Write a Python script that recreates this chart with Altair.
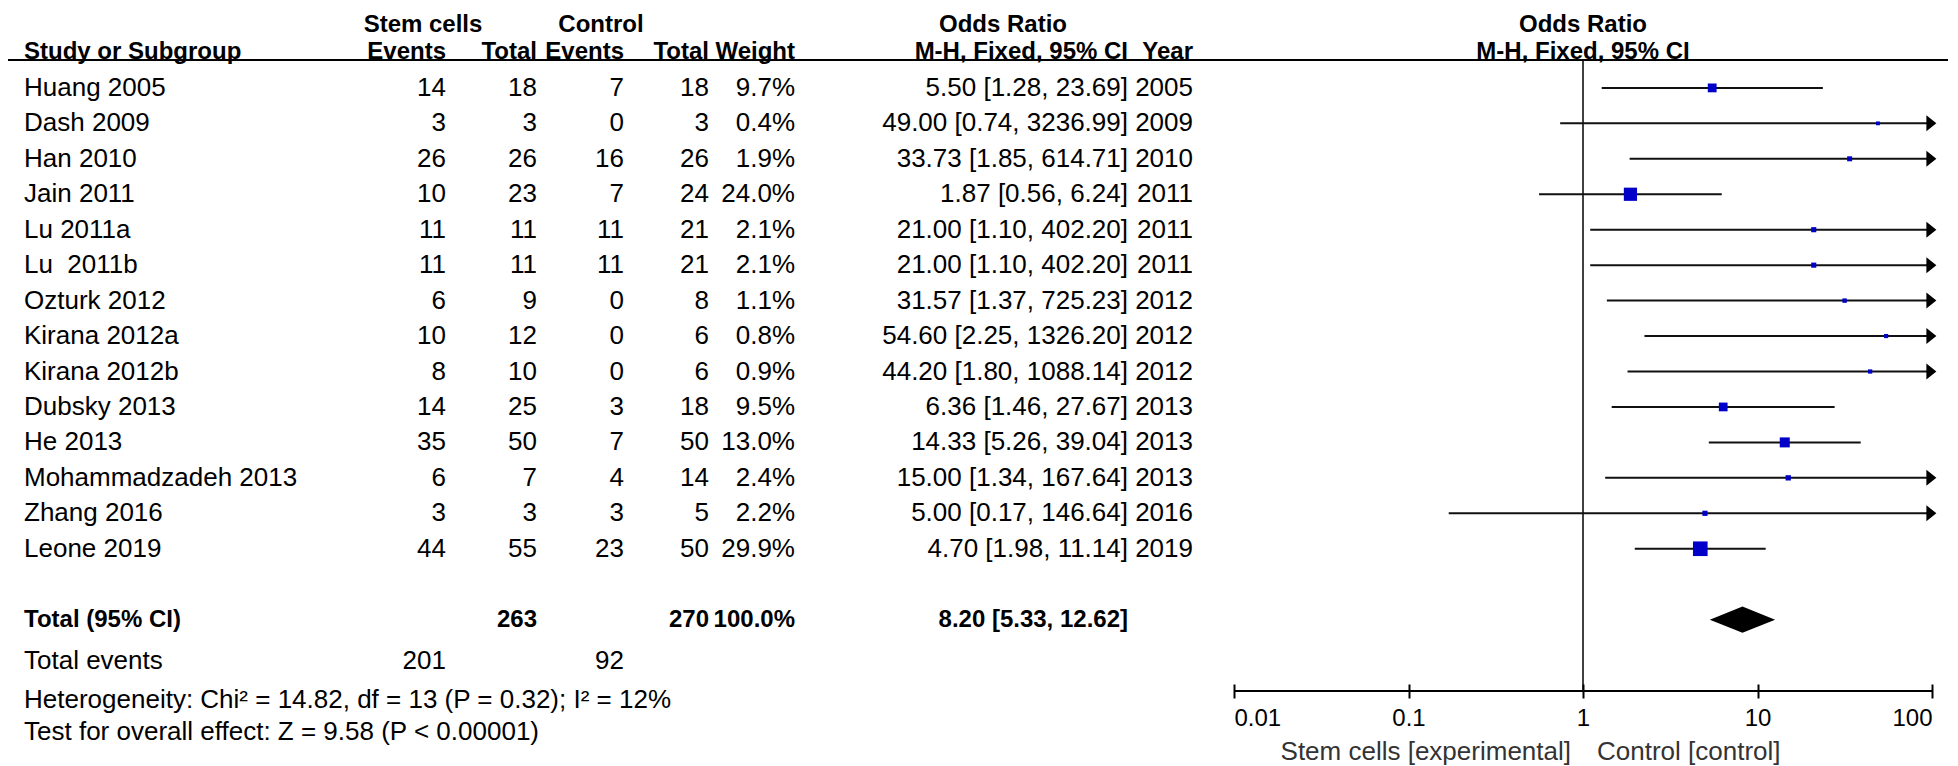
import altair as alt
import pandas as pd

# ---------------- data ----------------
studies = ["Huang 2005", "Dash 2009", "Han 2010", "Jain 2011", "Lu 2011a", "Lu\u00a0 2011b",
           "Ozturk 2012", "Kirana 2012a", "Kirana 2012b", "Dubsky 2013", "He 2013",
           "Mohammadzadeh 2013", "Zhang 2016", "Leone 2019"]
stem_events = [14, 3, 26, 10, 11, 11, 6, 10, 8, 14, 35, 6, 3, 44]
stem_total = [18, 3, 26, 23, 11, 11, 9, 12, 10, 25, 50, 7, 3, 55]
ctrl_events = [7, 0, 16, 7, 11, 11, 0, 0, 0, 3, 7, 4, 3, 23]
ctrl_total = [18, 3, 26, 24, 21, 21, 8, 6, 6, 18, 50, 14, 5, 50]
weights = [9.7, 0.4, 1.9, 24.0, 2.1, 2.1, 1.1, 0.8, 0.9, 9.5, 13.0, 2.4, 2.2, 29.9]
or_est = [5.50, 49.00, 33.73, 1.87, 21.00, 21.00, 31.57, 54.60, 44.20, 6.36, 14.33, 15.00, 5.00, 4.70]
or_low = [1.28, 0.74, 1.85, 0.56, 1.10, 1.10, 1.37, 2.25, 1.80, 1.46, 5.26, 1.34, 0.17, 1.98]
or_high = [23.69, 3236.99, 614.71, 6.24, 402.20, 402.20, 725.23, 1326.20, 1088.14, 27.67,
           39.04, 167.64, 146.64, 11.14]
years = [2005, 2009, 2010, 2011, 2011, 2011, 2012, 2012, 2012, 2013, 2013, 2013, 2016, 2019]

total_stem, total_ctrl = 263, 270
events_stem, events_ctrl = 201, 92
total_weight = 100.0
pooled = [5.33, 8.20, 12.62]  # low, estimate, high
het_text = "Heterogeneity: Chi\u00b2 = 14.82, df = 13 (P = 0.32); I\u00b2 = 12%"
test_text = "Test for overall effect: Z = 9.58 (P < 0.00001)"
tick_values = [0.01, 0.1, 1, 10, 100]

# ---------------- layout / style ----------------
FONT = "Liberation Sans"
FS = 26      # regular text
FSB = 24     # bold text
W, H = 1940, 683
ROW_TOTAL, ROW_EVENTS, ROW_HET, ROW_TEST = 15, 16, 17, 18
DIAMOND_HALF = 0.37
HDR_DY = 8

rows = list(range(len(studies)))
df = pd.DataFrame({
    "row": rows,
    "study": studies,
    "se": [str(v) for v in stem_events],
    "st": [str(v) for v in stem_total],
    "ce": [str(v) for v in ctrl_events],
    "ct": [str(v) for v in ctrl_total],
    "weight": weights,
    "wtxt": [f"{w:.1f}%" for w in weights],
    "est": or_est,
    "lo": or_low,
    "hi": or_high,
    "ortxt": [f"{e:.2f} [{l:.2f}, {h:.2f}]" for e, l, h in zip(or_est, or_low, or_high)],
    "year": [str(y) for y in years],
})

yscale = alt.Scale(domain=[-2, 18], range=[9, 718])
xscale = alt.Scale(type="log", domain=[0.01, 100], range=[1226, 1924], clamp=True)


def Y(field="row"):
    return alt.Y(f"{field}:Q", scale=yscale, axis=None)


def col_text(data, field, x, align="right", bold=False, color="#000", dy=0):
    return alt.Chart(data).mark_text(
        align=align, baseline="middle", font=FONT, fontSize=FSB if bold else FS,
        fontWeight="bold" if bold else "normal", color=color, dy=dy
    ).encode(x=alt.value(x), y=Y(), text=f"{field}:N")


# study rows
layers = [
    col_text(df, "study", 16, align="left"),
    col_text(df, "se", 438),
    col_text(df, "st", 529),
    col_text(df, "ce", 616),
    col_text(df, "ct", 701),
    col_text(df, "wtxt", 787),
    col_text(df, "ortxt", 1120),
    col_text(df, "year", 1185),
]

# header rows
hdr1 = pd.DataFrame({"row": [-2], "a": ["Stem cells"], "b": ["Control"], "c": ["Odds Ratio"]})
hdr2 = pd.DataFrame({"row": [-1], "s": ["Study or Subgroup"], "e1": ["Events"], "t1": ["Total"],
                     "e2": ["Events"], "t2": ["Total"], "w": ["Weight"],
                     "m": ["M-H, Fixed, 95% CI"], "y": ["Year"]})
layers += [
    col_text(hdr1, "a", 415, align="center", bold=True, dy=HDR_DY),
    col_text(hdr1, "b", 593, align="center", bold=True, dy=HDR_DY),
    col_text(hdr1, "c", 995, align="center", bold=True, dy=HDR_DY),
    col_text(hdr2, "s", 16, align="left", bold=True),
    col_text(hdr2, "e1", 438, bold=True),
    col_text(hdr2, "t1", 529, bold=True),
    col_text(hdr2, "e2", 616, bold=True),
    col_text(hdr2, "t2", 701, bold=True),
    col_text(hdr2, "w", 787, bold=True),
    col_text(hdr2, "m", 1120, bold=True),
    col_text(hdr2, "y", 1185, bold=True),
]

# plot headers centred on OR = 1
plot_hdr = pd.DataFrame({"row": [-2], "txt": ["Odds Ratio"], "one": [1]})
plot_hdr2 = pd.DataFrame({"row": [-1], "txt": ["M-H, Fixed, 95% CI"], "one": [1]})
for d, off in ((plot_hdr, HDR_DY), (plot_hdr2, 0)):
    layers.append(
        alt.Chart(d).mark_text(align="center", baseline="middle", font=FONT, fontSize=FSB,
                               fontWeight="bold", color="#000", dy=off)
        .encode(x=alt.X("one:Q", scale=xscale), y=Y(), text="txt:N")
    )

# totals & footers
tot = pd.DataFrame({"row": [ROW_TOTAL], "lab": ["Total (95% CI)"], "st": [str(total_stem)],
                    "ct": [str(total_ctrl)], "w": [f"{total_weight:.1f}%"],
                    "o": [f"{pooled[1]:.2f} [{pooled[0]:.2f}, {pooled[2]:.2f}]"]})
ev = pd.DataFrame({"row": [ROW_EVENTS], "lab": ["Total events"], "se": [str(events_stem)],
                   "ce": [str(events_ctrl)]})
het = pd.DataFrame({"row": [ROW_HET], "lab": [het_text]})
tst = pd.DataFrame({"row": [ROW_TEST], "lab": [test_text]})
layers += [
    col_text(tot, "lab", 16, align="left", bold=True),
    col_text(tot, "st", 529, bold=True),
    col_text(tot, "ct", 701, bold=True),
    col_text(tot, "w", 787, bold=True),
    col_text(tot, "o", 1120, bold=True),
    col_text(ev, "lab", 16, align="left", dy=6),
    col_text(ev, "se", 438, dy=6),
    col_text(ev, "ce", 616, dy=6),
    col_text(het, "lab", 16, align="left", dy=9),
    col_text(tst, "lab", 16, align="left", dy=6),
]

# header rule
layers.append(
    alt.Chart(hdr1).mark_rule(color="#000", strokeWidth=2)
    .encode(x=alt.value(0), x2=alt.value(W), y=alt.value(52))
)

# line of no effect
layers.append(
    alt.Chart(hdr1).mark_rule(color="#000", strokeWidth=1.5)
    .encode(x=alt.X(datum=1, type="quantitative", scale=xscale), y=alt.value(52), y2=alt.value(H))
)

# axis line
layers.append(
    alt.Chart(hdr1).mark_rule(color="#000", strokeWidth=2)
    .encode(x=alt.X(datum=tick_values[0], type="quantitative", scale=xscale),
            x2=alt.X2(datum=tick_values[-1]), y=alt.value(H))
)

# confidence intervals
layers.append(
    alt.Chart(df).mark_rule(color="#111", strokeWidth=2)
    .encode(
        x=alt.X("lo:Q", scale=xscale,
                axis=alt.Axis(values=tick_values, labelExpr="format(datum.value, '~g')",
                              title=None, grid=False, domain=False, tickSize=14, offset=-7,
                              tickWidth=2, tickColor="#000", labelFont=FONT, labelFontSize=24,
                              labelColor="#000", labelFlush=True, labelPadding=8)),
        x2="hi:Q",
        y=Y(),
    )
)

# arrows for truncated intervals
layers.append(
    alt.Chart(df).transform_filter("datum.hi > 100")
    .mark_point(shape="M-0.7,-1L0.55,0L-0.7,1Z", filled=True, color="#000", opacity=1, size=256)
    .encode(x=alt.X("hi:Q", scale=xscale), y=Y())
)

# study squares
layers.append(
    alt.Chart(df).mark_square(color="#0000C8", opacity=1)
    .encode(
        x=alt.X("est:Q", scale=xscale),
        y=Y(),
        size=alt.Size("weight:Q", scale=alt.Scale(domain=[0, 30], range=[12, 215]), legend=None),
    )
)

# pooled diamond
dia = pd.DataFrame({
    "x": pooled,
    "y": [ROW_TOTAL, ROW_TOTAL - DIAMOND_HALF, ROW_TOTAL],
    "y2": [ROW_TOTAL, ROW_TOTAL + DIAMOND_HALF, ROW_TOTAL],
})
layers.append(
    alt.Chart(dia).mark_area(color="#000", opacity=1, orient="vertical")
    .encode(x=alt.X("x:Q", scale=xscale), y=alt.Y("y:Q", scale=yscale, axis=None), y2="y2:Q")
)

# favours labels
fav_l = pd.DataFrame({"one": [1], "txt": ["Stem cells [experimental]"]})
fav_r = pd.DataFrame({"one": [1], "txt": ["Control [control]"]})
layers += [
    alt.Chart(fav_l)
    .mark_text(align="right", baseline="middle", font=FONT, fontSize=FS, color="#333", dx=-12)
    .encode(x=alt.X("one:Q", scale=xscale), y=alt.value(744), text="txt:N"),
    alt.Chart(fav_r)
    .mark_text(align="left", baseline="middle", font=FONT, fontSize=FS, color="#333", dx=14)
    .encode(x=alt.X("one:Q", scale=xscale), y=alt.value(744), text="txt:N"),
]

chart = alt.layer(*layers).properties(
    width=W, height=H,
    padding={"left": 0, "top": 0, "right": 0, "bottom": 75},
    autosize=alt.AutoSizeParams(type="none"),
).configure_view(strokeWidth=0)

chart.save("out.html", embed_options={"renderer": "svg", "actions": False})
